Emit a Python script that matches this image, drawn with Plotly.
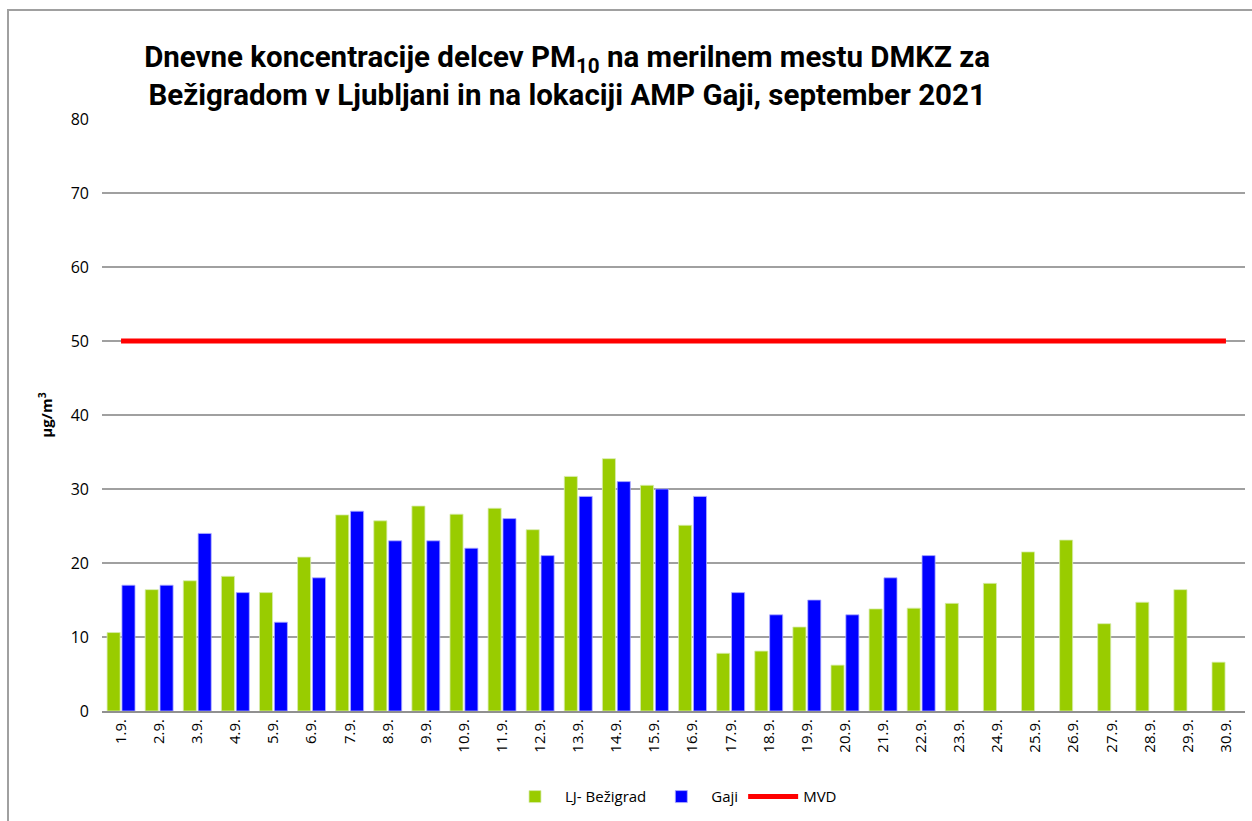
import plotly.graph_objects as go

days = [f"{d}.9." for d in range(1, 31)]
bezigrad = [10.6, 16.4, 17.6, 18.2, 16.0, 20.8, 26.5, 25.7, 27.7, 26.6,
            27.4, 24.5, 31.7, 34.1, 30.5, 25.1, 7.8, 8.1, 11.35, 6.2,
            13.8, 13.9, 14.55, 17.25, 21.5, 23.1, 11.8, 14.7, 16.4, 6.6]
gaji = [17.0, 17.0, 24.0, 16.0, 12.0, 18.0, 27.0, 23.0, 23.0, 22.0,
        26.0, 21.0, 29.0, 31.0, 30.0, 29.0, 16.0, 13.0, 15.0, 13.0,
        18.0, 21.0, None, None, None, None, None, None, None, None]
mvd = [50] * 30

fig = go.Figure()
fig.add_trace(go.Bar(x=days, y=bezigrad, name="LJ- Bežigrad",
                     marker=dict(color="#99cc00", line=dict(color="#d8ecb0", width=0.8))))
fig.add_trace(go.Bar(x=days, y=gaji, name="Gaji",
                     marker=dict(color="#0000ff", line=dict(color="#b0b0ff", width=0.8))))
fig.add_trace(go.Scatter(x=days, y=mvd, name="MVD", mode="lines",
                         line=dict(color="#ff0000", width=5)))

fig.update_layout(
    width=1252, height=821,
    paper_bgcolor="white", plot_bgcolor="white",
    margin=dict(l=102, r=7, t=119, b=110),
    barmode="group", bargap=0.22, bargroupgap=0.12,
    font=dict(family="Open Sans, DejaVu Sans, sans-serif", size=16, color="#000000"),
    title=dict(
        text="<b>Dnevne koncentracije delcev PM<sub>10</sub> na merilnem mestu DMKZ za<br>Bežigradom v Ljubljani in na lokaciji AMP Gaji, september 2021</b>",
        x=0.453, xanchor="center", xref="container",
        y=1 - 67 / 821, yanchor="middle",
        font=dict(family="Roboto, Liberation Sans, sans-serif", size=29.5, color="#000000"),
    ),
    legend=dict(orientation="h", x=0.5, xanchor="center", y=-0.145, yanchor="middle",
                font=dict(size=15), itemwidth=50, traceorder="normal"),
    showlegend=True,
)
fig.update_yaxes(range=[0, 80], dtick=10, showgrid=True, gridcolor="#a0a0a0", gridwidth=1.5,
                 zeroline=False, showline=False, ticklabelstandoff=12,
                 tickfont=dict(size=16),
                 title=dict(text="<b>µg/m<sup>3</sup></b>", font=dict(size=15), standoff=14))
fig.update_xaxes(showline=True, linecolor="#909090", linewidth=2, tickangle=-90,
                 tickfont=dict(size=15), ticks="", showgrid=False)

fig.add_shape(type="rect", xref="paper", yref="paper",
              x0=-94 / 1143, x1=1.2, y0=-0.2, y1=1 + 109 / 592,
              line=dict(color="#a0a0a0", width=2), fillcolor="rgba(0,0,0,0)", layer="below")

fig.write_html("out.html", config={"displayModeBar": False},
               post_script="document.body.style.margin='0';document.body.style.padding='0';")
